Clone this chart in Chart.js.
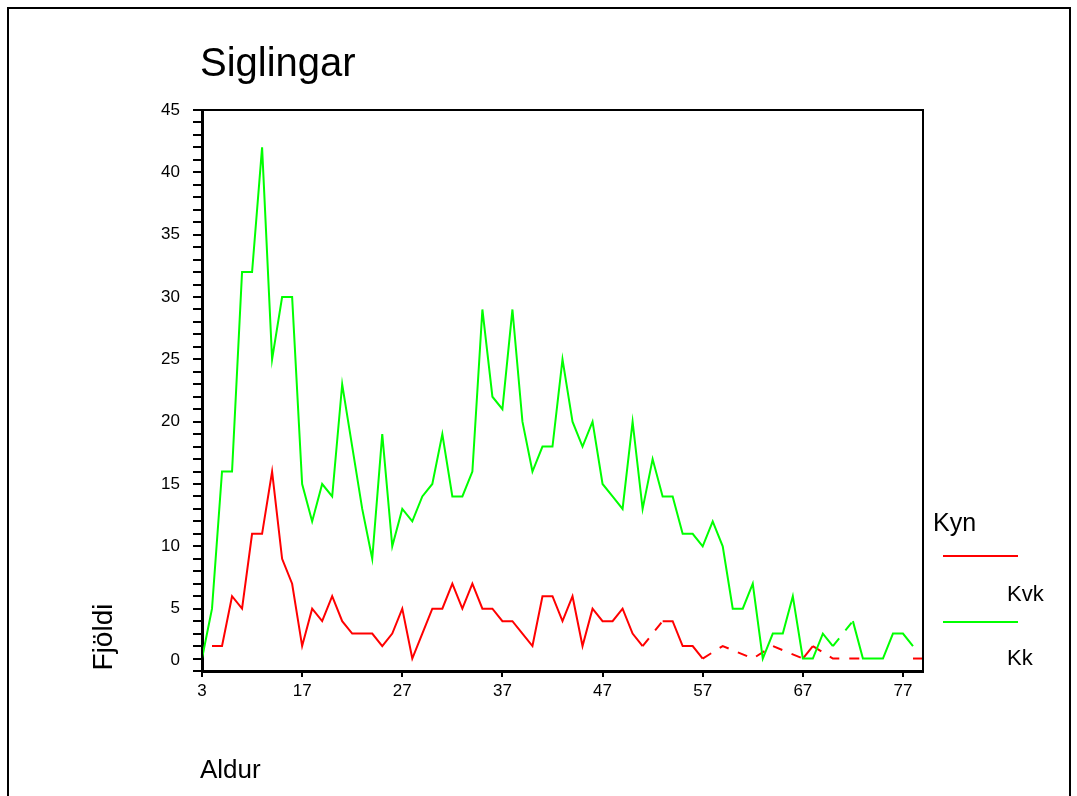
<!DOCTYPE html>
<html>
<head>
<meta charset="utf-8">
<script src="https://cdn.jsdelivr.net/npm/chart.js@4.4.1/dist/chart.umd.min.js"></script>
<style>
  html, body { margin: 0; padding: 0; background: #fff; overflow: hidden; }
  body { width: 1077px; height: 796px; position: relative; font-family: "Liberation Sans", Arial, sans-serif; color: #000; }
  #frame { position: absolute; left: 7px; top: 7px; width: 1060px; height: 820px; border: 2px solid #000; }
  #chart { position: absolute; left: 0; top: 0; }
  .txt { position: absolute; line-height: 1; white-space: nowrap; }
  .swatch { position: absolute; height: 2px; width: 75px; }
</style>
</head>
<body>
<div id="frame"></div>
<canvas id="chart" width="1077" height="796"></canvas>
<div class="txt" style="left:200px; top:42px; font-size:40px;">Siglingar</div>
<div class="txt" style="left:200px; top:756px; font-size:26px;">Aldur</div>
<div class="txt" style="left:103px; top:637px; font-size:28px; transform: translate(-50%, -50%) rotate(-90deg);">Fjöldi</div>
<div class="txt" style="right:897px; top:651px; font-size:17px;">0</div>
<div class="txt" style="left:933px; top:510px; font-size:25px;">Kyn</div>
<div class="swatch" style="left:943px; top:555px; background:#ff0000;"></div>
<div class="txt" style="left:1007px; top:583px; font-size:22px;">Kvk</div>
<div class="swatch" style="left:943px; top:621px; background:#00ff00;"></div>
<div class="txt" style="left:1007px; top:647px; font-size:22px;">Kk</div>
<script>
// aldur (flokkar á x-ás)
const ages = [3, 8, 9, 10, 11, 12, 13, 14, 15, 16, 17, 18, 19, 20, 21, 22, 23, 24, 25, 26,
    27, 28, 29, 30, 31, 32, 33, 34, 35, 36, 37, 38, 39, 40, 41, 42, 43, 44, 45, 46,
    47, 48, 49, 50, 51, 52, 53, 54, 55, 56, 57, 58, 59, 60, 61, 62, 63, 64, 65, 66,
    67, 68, 69, 70, 71, 72, 73, 74, 75, 76, 77, 78, 79];

// Kvk (rautt)
const kvk = [null, 2, 2, 6, 5, 11, 11, 16, 9, 7, 2, 5, 4, 6, 4, 3, 3, 3, 2, 3,
    5, 1, 3, 5, 5, 7, 5, 7, 5, 5, 4, 4, 3, 2, 6, 6, 4, 6, 2, 5,
    4, 4, 5, 3, 2, null, 4, 4, 2, 2, 1, null, 2, null, null, 1, null, 2, null, null,
    1, 2, null, 1, null, null, 1, null, null, null, null, 1, 1];

// Kk (grænt)
const kk = [1, 5, 16, 16, 32, 32, 42, 25, 30, 30, 15, 12, 15, 14, 23, 18, 13, 9, 19, 10,
    13, 12, 14, 15, 19, 14, 14, 16, 29, 22, 21, 29, 20, 16, 18, 18, 25, 20, 18, 20,
    15, 14, 13, 20, 13, 17, 14, 14, 11, 11, 10, 12, 10, 5, 5, 7, 1, 3, 3, 6,
    1, 1, 3, 2, null, 4, 1, 1, 1, 3, 3, 2, null];

// lengd gatsins sem bútur liggur í (1 = ekkert gat)
function gapLen(data, i0, i1) {
    let a = i0;
    while (a > 0 && data[a] == null) a--;
    let b = i1;
    while (b < data.length - 1 && data[b] == null) b++;
    return b - a;
}

// strikuð lína yfir göt, ekkert ef gatið er of langt
const gapDash = ctx => {
    const d = ctx.chart.data.datasets[ctx.datasetIndex].data;
    return gapLen(d, ctx.p0DataIndex, ctx.p1DataIndex) > 1 ? [10, 10] : undefined;
};
const gapHide = ctx => {
    const d = ctx.chart.data.datasets[ctx.datasetIndex].data;
    return gapLen(d, ctx.p0DataIndex, ctx.p1DataIndex) > 4 ? 'rgba(0,0,0,0)' : undefined;
};

const framePlugin = {
    id: 'frame',
    afterDraw(chart) {
        const { ctx, chartArea: a } = chart;
        ctx.save();
        ctx.strokeStyle = '#000';
        ctx.lineWidth = 2;
        ctx.strokeRect(a.left, a.top, a.right - a.left, a.bottom - a.top);
        ctx.restore();
    }
};

Chart.defaults.font.family = '"Liberation Sans", Arial, sans-serif';
Chart.defaults.color = '#000';

new Chart(document.getElementById('chart'), {
    type: 'line',
    data: {
        labels: ages,
        datasets: [
            {
                label: 'Kvk',
                data: kvk,
                borderColor: '#ff0000',
                borderWidth: 2,
                pointRadius: 0,
                tension: 0,
                spanGaps: true,
                order: 2,
                segment: { borderDash: gapDash, borderColor: gapHide }
            },
            {
                label: 'Kk',
                data: kk,
                borderColor: '#00ff00',
                borderWidth: 2,
                pointRadius: 0,
                tension: 0,
                spanGaps: true,
                order: 1,
                segment: { borderDash: gapDash, borderColor: gapHide }
            }
        ]
    },
    options: {
        responsive: false,
        animation: false,
        layout: { padding: { left: 142, top: 110, right: 154, bottom: 85 } },
        plugins: {
            legend: { display: false },
            tooltip: { enabled: false },
            title: { display: false }
        },
        scales: {
            x: {
                type: 'category',
                offset: false,
                grid: {
                    drawOnChartArea: false,
                    offset: false,
                    tickLength: 6,
                    lineWidth: 2,
                    color: ctx => (ctx.index % 10 === 0 ? '#000' : 'rgba(0,0,0,0)')
                },
                border: { display: true, color: '#000', width: 3 },
                ticks: {
                    autoSkip: false,
                    maxRotation: 0,
                    minRotation: 0,
                    padding: 4,
                    font: { size: 17 },
                    callback: (v, i) => (i % 10 === 0 ? ages[i] : '')
                },
                afterFit: s => { s.height = 40; }
            },
            y: {
                min: 0,
                max: 45,
                grid: {
                    drawOnChartArea: false,
                    tickLength: 9,
                    lineWidth: 2,
                    color: '#000'
                },
                border: { display: true, color: '#000', width: 3 },
                ticks: {
                    stepSize: 1,
                    autoSkip: false,
                    padding: 13,
                    font: { size: 17 },
                    // 0 er teiknað sér, aðeins ofar, eins og í frummyndinni
                    callback: v => (v % 5 === 0 && v > 0 ? v : '')
                },
                afterFit: s => { s.width = 60; }
            }
        }
    },
    plugins: [framePlugin]
});
</script>
</body>
</html>
